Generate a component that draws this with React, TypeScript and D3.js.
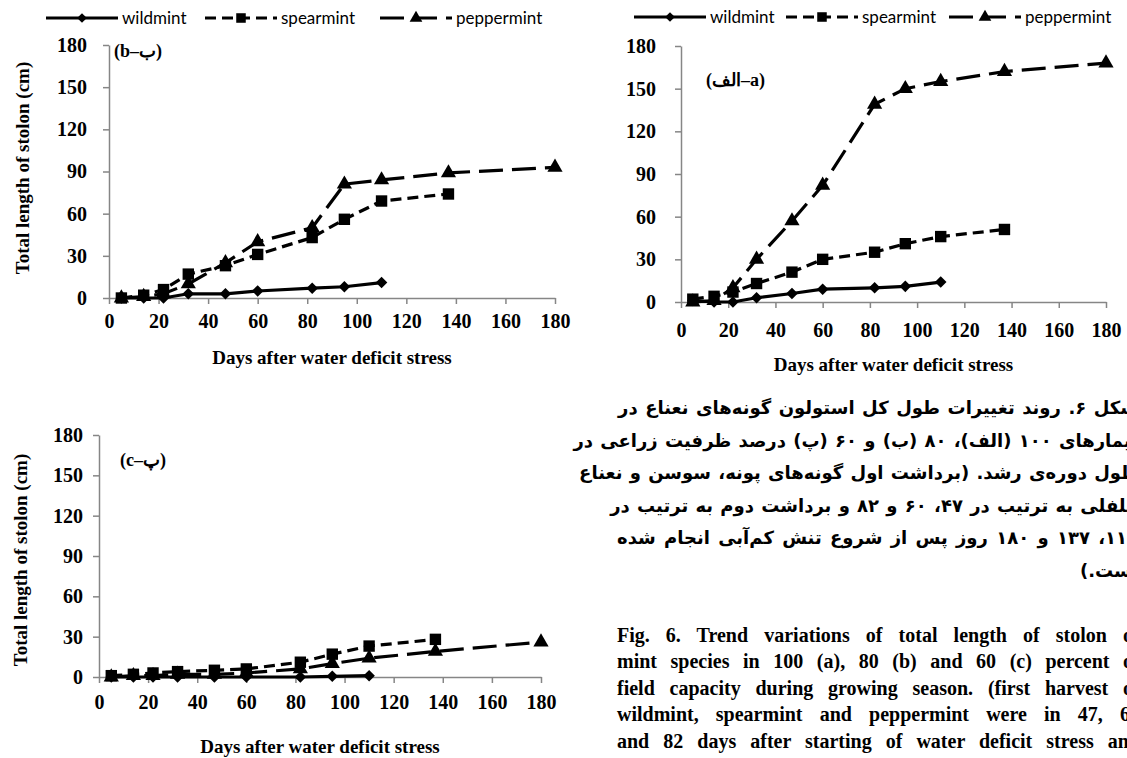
import React, { useEffect, useRef } from 'react';
import * as d3 from 'd3';

// days after water deficit stress
const days = [5, 14, 22, 32, 47, 60, 82, 95, 110, 137, 180];
const xTickValues = [0, 20, 40, 60, 80, 100, 120, 140, 160, 180];
const yTickValues = [0, 30, 60, 90, 120, 150, 180];
const seriesNames = ['wildmint', 'spearmint', 'peppermint'];

// (a) 100% FC
const aWild = [1, 0, 0, 3, 6, 9, 10, 11, 14];
const aSpear = [2, 4, 7, 13, 21, 30, 35, 41, 46, 51];
const aPepper = [0, 1, 10, 30, 57, 82, 139, 150, 155, 162, 168];
// (b) 80% FC
const bWild = [0, 0, 0, 3, 3, 5, 7, 8, 11];
const bSpear = [0, 2, 6, 17, 23, 31, 43, 56, 69, 74];
const bPepper = [0, 1, 3, 10, 25, 40, 50, 81, 84, 89, 93];
// (c) 60% FC
const cWild = [0, 0, 0, 0, 0, 0, 0, 0.5, 1];
const cSpear = [1, 2, 3, 4, 5, 6, 11, 17, 23, 28];
const cPepper = [0, 1, 1, 2, 2, 3, 6, 10, 14, 19, 26];

const faLines = [
  'شکل ۶. روند تغییرات طول کل استولون گونه‌های نعناع در',
  'تیمارهای ۱۰۰ (الف)، ۸۰ (ب) و ۶۰ (پ) درصد ظرفیت زراعی در',
  'طول دوره‌ی رشد. (برداشت اول گونه‌های پونه، سوسن و نعناع',
  'فلفلی به ترتیب در ۴۷، ۶۰ و ۸۲ و برداشت دوم به ترتیب در',
  '۱۱۰، ۱۳۷ و ۱۸۰ روز پس از شروع تنش کم‌آبی انجام شده',
  'است.)',
];
const enLines = [
  'Fig. 6. Trend variations of total length of stolon of',
  'mint species in 100 (a), 80 (b) and 60 (c) percent of',
  'field capacity during growing season. (first harvest of',
  'wildmint, spearmint and peppermint were in 47, 60',
  'and 82 days after starting of water deficit stress and',
  'second harvest were in 110, 137 and 180 days after',
];

const styles = [
  { dash: null, symbol: d3.symbolDiamond2 || d3.symbolDiamond, size: 85 },
  { dash: '11,6', symbol: d3.symbolSquare, size: 130 },
  { dash: '24,9', symbol: d3.symbolTriangle, size: 100 },
];

const charts = [
  {
    tag: '(b–ب)', series: [bWild, bSpear, bPepper],
    x0: 109, x1: 555, yTop: 45, yBot: 298, labelGap: 22,
    tagX: 114, tagY: 57, xLabelY: 321, titleY: 357, yTitle: true, yTitleX: 22, yTitleCY: 168,
    legendY: 18, legendX: [46, 205, 380],
  },
  {
    tag: '(الف–a)', series: [aWild, aSpear, aPepper],
    x0: 681, x1: 1106, yTop: 46, yBot: 302, labelGap: 25,
    tagX: 706, tagY: 86, xLabelY: 330, titleY: 364, yTitle: false, yTitleX: 0, yTitleCY: 0,
    legendY: 17, legendX: [634, 786, 949],
  },
  {
    tag: '(c–پ)', series: [cWild, cSpear, cPepper],
    x0: 99, x1: 541, yTop: 435, yBot: 677, labelGap: 16,
    tagX: 120, tagY: 466, xLabelY: 702, titleY: 746, yTitle: true, yTitleX: 20, yTitleCY: 560,
    legendY: null, legendX: [],
  },
];

const serif = '"Liberation Serif", "Times New Roman", serif';
const axisColor = '#868686';

export default function App() {
  const svgRef = useRef<SVGSVGElement>(null);

  useEffect(() => {
    if (!svgRef.current) return;
    const svg = d3.select(svgRef.current);
    svg.selectAll('*').remove();

    charts.forEach(c => {
      const x = d3.scaleLinear().domain([0, 180]).range([c.x0, c.x1]);
      const y = d3.scaleLinear().domain([0, 180]).range([c.yBot, c.yTop]);
      const g = svg.append('g');

      // y axis
      const ya = g.append('g')
        .attr('transform', `translate(${c.x0},0)`)
        .call(d3.axisLeft(y).tickValues(yTickValues).tickSize(6).tickSizeOuter(0).tickPadding(c.labelGap - 6));
      // x axis
      const xa = g.append('g')
        .attr('transform', `translate(0,${c.yBot})`)
        .call(d3.axisBottom(x).tickValues(xTickValues).tickSize(6).tickSizeOuter(0));
      [ya, xa].forEach(a => {
        a.attr('font-family', serif).attr('font-size', 20);
        a.select('.domain').attr('stroke', axisColor).attr('stroke-width', 1.5);
        a.selectAll('.tick line').attr('stroke', axisColor).attr('stroke-width', 1.5);
        a.selectAll('text')
          .attr('fill', '#000')
          .style('font-family', serif)
          .style('font-weight', 'bold')
          .style('font-size', '20px');
      });
      xa.selectAll('text').attr('y', c.xLabelY - c.yBot).attr('dy', '0.35em');

      // axis titles
      g.append('text')
        .attr('x', (c.x0 + c.x1) / 2)
        .attr('y', c.titleY)
        .attr('dy', '0.35em')
        .attr('text-anchor', 'middle')
        .style('font-family', serif)
        .style('font-weight', 'bold')
        .style('font-size', '19px')
        .text('Days after water deficit stress');
      if (c.yTitle) {
        g.append('text')
          .attr('transform', `translate(${c.yTitleX},${c.yTitleCY}) rotate(-90)`)
          .attr('dy', '0.35em')
          .attr('text-anchor', 'middle')
          .style('font-family', serif)
          .style('font-weight', 'bold')
          .style('font-size', '19px')
          .text('Total length of stolon (cm)');
      }
      g.append('text')
        .attr('x', c.tagX)
        .attr('y', c.tagY)
        .style('font-family', serif)
        .style('font-weight', 'bold')
        .style('font-size', '18px')
        .text(c.tag);

      // series
      c.series.forEach((vals, si) => {
        const st = styles[si];
        const pts = vals.map((v, i) => [days[i], v] as [number, number]);
        g.append('path')
          .datum(pts)
          .attr('fill', 'none')
          .attr('stroke', '#000')
          .attr('stroke-width', 3.2)
          .attr('stroke-dasharray', st.dash)
          .attr('d', d3.line().x(d => x(d[0])).y(d => y(d[1])));
        g.selectAll(null)
          .data(pts)
          .enter()
          .append('path')
          .attr('transform', d => `translate(${x(d[0])},${y(d[1])})`)
          .attr('d', d3.symbol().type(st.symbol).size(st.size)())
          .attr('fill', '#000');
      });

      // legend
      if (c.legendY !== null) {
        c.legendX.forEach((lx, si) => {
          const st = styles[si];
          const lg = svg.append('g');
          lg.append('line')
            .attr('x1', lx).attr('x2', lx + 72)
            .attr('y1', c.legendY).attr('y2', c.legendY)
            .attr('stroke', '#000')
            .attr('stroke-width', 3)
            .attr('stroke-dasharray', st.dash);
          lg.append('path')
            .attr('transform', `translate(${lx + 36},${c.legendY})`)
            .attr('d', d3.symbol().type(st.symbol).size(st.size * 0.7)())
            .attr('fill', '#000');
          lg.append('text')
            .attr('x', lx + 76)
            .attr('y', c.legendY)
            .attr('dy', '0.35em')
            .style('font-family', 'Lato, "Open Sans", sans-serif')
            .style('font-size', '17px')
            .text(seriesNames[si]);
        });
      }
    });

    // captions
    const faTop = 414;
    faLines.forEach((t, i) => {
      svg.append('text')
        .attr('class', 'just')
        .attr('data-rtl', '1')
        .attr('data-full', i < faLines.length - 1 ? '1' : '0')
        .attr('data-left', 617)
        .attr('data-right', 1138)
        .attr('x', 617)
        .attr('y', faTop + i * 32.5)
        .attr('direction', 'rtl')
        .style('font-family', '"DejaVu Sans", sans-serif')
        .style('font-weight', 'bold')
        .style('font-size', '18px')
        .text(t);
    });
    enLines.forEach((t, i) => {
      svg.append('text')
        .attr('class', 'just')
        .attr('data-rtl', '0')
        .attr('data-full', '1')
        .attr('data-left', 617)
        .attr('data-right', 1140)
        .attr('x', 617)
        .attr('y', 642 + i * 26.4)
        .style('font-family', serif)
        .style('font-weight', 'bold')
        .style('font-size', '20px')
        .text(t);
    });

    svg.selectAll<SVGTextElement, unknown>('text.just').each(function () {
      const t = d3.select(this);
      const rtl = t.attr('data-rtl') === '1';
      const left = +t.attr('data-left');
      const right = +t.attr('data-right');
      const str = t.text();
      const spaces = (str.match(/ /g) || []).length;
      let bb = this.getBBox();
      if (t.attr('data-full') === '1' && spaces > 0) {
        const ws = Math.max(1, (right - left - bb.width) / spaces);
        t.style('word-spacing', `${ws}px`);
        bb = this.getBBox();
      }
      const cur = +t.attr('x');
      const shift = rtl ? right - (bb.x + bb.width) : left - bb.x;
      t.attr('x', cur + shift);
    });
  }, []);

  return (
    <svg
      ref={svgRef}
      width={1127}
      height={758}
      style={{ position: 'absolute', left: 0, top: 0, background: '#fff' }}
    />
  );
}
